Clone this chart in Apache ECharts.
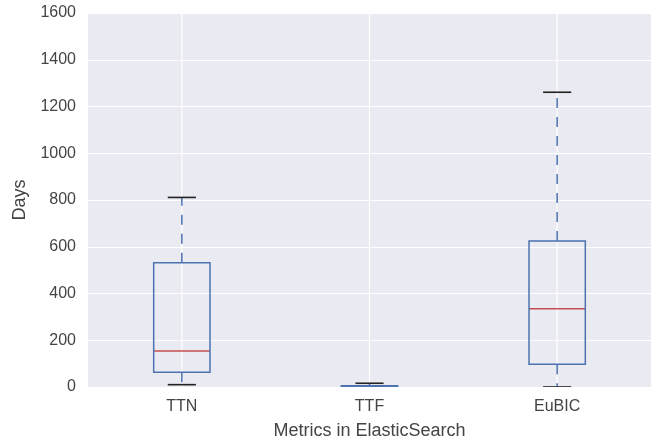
<!DOCTYPE html>
<html>
<head>
<meta charset="utf-8">
<script src="https://cdn.jsdelivr.net/npm/echarts@6/dist/echarts.min.js"></script>
<style>
  html, body { margin: 0; padding: 0; background: #fff; }
  #chart { width: 656px; height: 445px; }
</style>
</head>
<body>
<div id="chart"></div>
<script>
// Box statistics per metric, in days
const categories = ['TTN', 'TTF', 'EuBIC'];
const whiskerLow = [10, 0, 0];
const q1 = [63, 0, 97];
const median = [154, 0, 335];
const q3 = [532, 5, 625];
const whiskerHigh = [811, 16, 1261];
const yTicks = [0, 200, 400, 600, 800, 1000, 1200, 1400, 1600];

const BOX_BLUE = '#4C72B0';
const MEDIAN_RED = '#C44E52';
const CAP_BLACK = '#222';
const FONT = "'Liberation Sans', Arial, sans-serif";

const rows = categories.map((c, i) => [i, whiskerLow[i], q1[i], median[i], q3[i], whiskerHigh[i]]);

function renderBox(params, api) {
  const idx = api.value(0);
  const band = api.size([1, 0])[0];
  const halfBox = band * 0.15;
  const halfCap = band * 0.075;
  const pLow = api.coord([idx, api.value(1)]);
  const pQ1 = api.coord([idx, api.value(2)]);
  const pMed = api.coord([idx, api.value(3)]);
  const pQ3 = api.coord([idx, api.value(4)]);
  const pHigh = api.coord([idx, api.value(5)]);
  const cx = pMed[0];
  const cs = params.coordSys;
  const seg = (x1, y1, x2, y2, style) => ({ type: 'line', shape: { x1, y1, x2, y2 }, style });
  return {
    type: 'group',
    children: [
      // vertical grid line at the category
      seg(cx, cs.y, cx, cs.y + cs.height, { stroke: '#fff', lineWidth: 1.2 }),
      // whiskers, dashed, starting from the box edges
      seg(cx, pQ3[1], cx, pHigh[1], { stroke: BOX_BLUE, lineWidth: 1.5, lineDash: [10, 9] }),
      seg(cx, pQ1[1], cx, pLow[1], { stroke: BOX_BLUE, lineWidth: 1.5, lineDash: [10, 9] }),
      // caps
      seg(cx - halfCap, pHigh[1], cx + halfCap, pHigh[1], { stroke: CAP_BLACK, lineWidth: 1.6 }),
      seg(cx - halfCap, pLow[1], cx + halfCap, pLow[1], { stroke: CAP_BLACK, lineWidth: 1.6 }),
      // median
      seg(cx - halfBox, pMed[1], cx + halfBox, pMed[1], { stroke: MEDIAN_RED, lineWidth: 1.5 }),
      // box
      {
        type: 'rect',
        shape: { x: cx - halfBox, y: pQ3[1], width: halfBox * 2, height: pQ1[1] - pQ3[1] },
        style: { fill: 'none', stroke: BOX_BLUE, lineWidth: 1.5 }
      }
    ]
  };
}

const chart = echarts.init(document.getElementById('chart'), null, { renderer: 'canvas' });
chart.setOption({
  animation: false,
  backgroundColor: '#fff',
  grid: {
    left: 88, right: 5, top: 13, bottom: 58,
    show: true, backgroundColor: '#EAEAF2', borderWidth: 0
  },
  xAxis: {
    type: 'category',
    data: categories,
    boundaryGap: true,
    name: 'Metrics in ElasticSearch',
    nameLocation: 'middle',
    nameGap: 35,
    nameTextStyle: { fontFamily: FONT, fontSize: 18, color: '#444' },
    axisLine: { show: false },
    axisTick: { show: false },
    splitLine: { show: false },
    axisLabel: { fontFamily: FONT, fontSize: 16, color: '#444', margin: 12 }
  },
  yAxis: {
    type: 'value',
    min: yTicks[0],
    max: yTicks[yTicks.length - 1],
    interval: yTicks[1] - yTicks[0],
    name: 'Days',
    nameLocation: 'middle',
    nameGap: 53,
    nameTextStyle: { fontFamily: FONT, fontSize: 18, color: '#444' },
    axisLine: { show: false },
    axisTick: { show: false },
    splitLine: { show: true, lineStyle: { color: '#fff', width: 1.2 } },
    axisLabel: {
      fontFamily: FONT, fontSize: 16, color: '#444', margin: 12,
      formatter: (v) => String(v)
    }
  },
  series: [{
    type: 'custom',
    clip: true,
    renderItem: renderBox,
    encode: { x: 0, y: [1, 2, 3, 4, 5] },
    data: rows
  }]
});
</script>
</body>
</html>
